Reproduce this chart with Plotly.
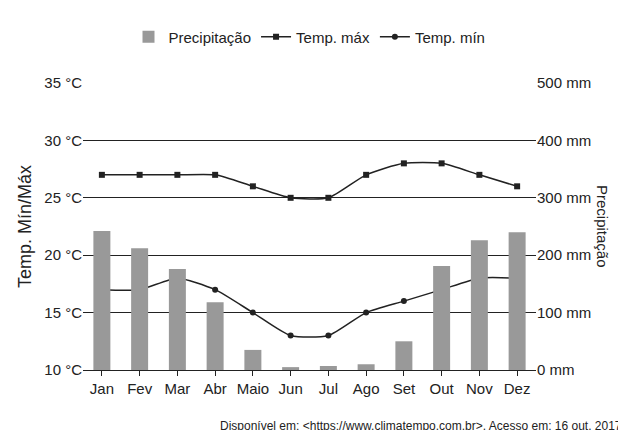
import plotly.graph_objects as go

meses = ["Jan", "Fev", "Mar", "Abr", "Maio", "Jun", "Jul", "Ago", "Set", "Out", "Nov", "Dez"]
precip = [242, 212, 176, 118, 35, 5, 7, 10, 50, 181, 226, 240]
tmax = [27, 27, 27, 27, 26, 25, 25, 27, 28, 28, 27, 26]
tmin = [17, 17, 18, 17, 15, 13, 13, 15, 16, 17, 18, 18]

fig = go.Figure()
fig.add_bar(x=meses, y=precip, name="Precipitação", yaxis="y2",
            marker_color="#999999", width=0.45)
fig.add_scatter(x=meses, y=tmax, name="Temp. máx", mode="lines+markers",
                line=dict(color="#222222", width=1.5, shape="spline", smoothing=0.6),
                marker=dict(symbol="square", size=6, color="#222222"))
fig.add_scatter(x=meses, y=tmin, name="Temp. mín", mode="lines+markers",
                line=dict(color="#222222", width=1.5, shape="spline", smoothing=0.6),
                marker=dict(symbol="circle", size=6, color="#222222"))

font = dict(family="Liberation Sans, Arial", size=15, color="#222222")
fig.update_layout(
    width=626, height=430, template="none", font=font,
    margin=dict(l=75, r=98, t=75, b=68, autoexpand=False),
    plot_bgcolor="white", paper_bgcolor="white",
    legend=dict(orientation="h", x=0.5, xanchor="center", y=1.16, yanchor="middle",
                font=dict(size=15), traceorder="normal"),
    xaxis=dict(showgrid=False, showline=True, linecolor="#222222", ticks="outside",
               ticklen=5, tickcolor="#222222", range=[-0.5, 11.5]),
    yaxis=dict(range=[10, 35], tickvals=[10, 15, 20, 25, 30, 35],
               ticktext=[f"{v} °C" for v in range(10, 40, 5)],
               showgrid=True, gridcolor="#222222", gridwidth=1, zeroline=False,
               title=dict(text="Temp. Mín/Máx", standoff=8)),
    yaxis2=dict(range=[0, 500], overlaying="y", side="right", showgrid=False,
                tickvals=[0, 100, 200, 300, 400, 500],
                ticktext=[f"{v} mm" for v in range(0, 600, 100)], zeroline=False),
    annotations=[
        dict(text="Precipitação", textangle=90, x=1.17, y=0.5, xref="paper", yref="paper",
             showarrow=False, font=dict(size=15)),
        dict(text="Disponível em: <https://www.climatempo.com.br>. Acesso em: 16 out. 2017.",
             x=1.2, y=-0.195, xref="paper", yref="paper", xanchor="right", yanchor="middle",
             showarrow=False, font=dict(size=12)),
    ],
)
fig.write_html("out.html")
